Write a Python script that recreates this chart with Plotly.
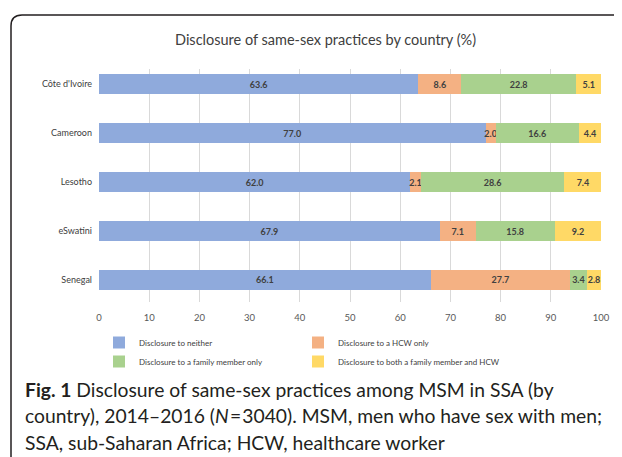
import plotly.graph_objects as go

countries = ["Côte d'Ivoire", "Cameroon", "Lesotho", "eSwatini", "Senegal"]
neither = [63.6, 77.0, 62.0, 67.9, 66.1]
hcw_only = [8.6, 2.0, 2.1, 7.1, 27.7]
family_only = [22.8, 16.6, 28.6, 15.8, 3.4]
both = [5.1, 4.4, 7.4, 9.2, 2.8]

series_names = ["Disclosure to neither", "Disclosure to a HCW only",
                "Disclosure to a family member only", "Disclosure to both a family member and HCW"]
series_vals = [neither, hcw_only, family_only, both]
colors = ["#8FAADC", "#F4B183", "#A9D18E", "#FFD966"]
legends = ["legend", "legend2", "legend3", "legend4"]
x_ticks = list(range(0, 101, 10))

# the page body has an 8px margin; work in window coordinates and compensate
OFF = 8
W, H = 622 - OFF, 457 - OFF
L, R, T, B = 99 - OFF, 601 - OFF, 69 - OFF, 302 - OFF

def px(v):
    return (v - OFF - L) / (R - L)

def py(v):
    return (B - (v - OFF)) / (B - T)

fig = go.Figure()
for name, vals, c, lg in zip(series_names, series_vals, colors, legends):
    fig.add_trace(go.Bar(
        y=countries, x=vals, name=name, orientation="h",
        marker=dict(color=c, line=dict(width=0)),
        text=vals, texttemplate="<b>%{x:.1f}</b>", textposition="inside", textangle=0,
        insidetextanchor="middle", constraintext="none",
        textfont=dict(family="Lato", size=9, color="#404040"),
        legend=lg, hoverinfo="skip",
    ))

leg_common = dict(orientation="v", xanchor="left", yanchor="top",
                  font=dict(family="Lato", size=8, color="#404040"),
                  bgcolor="rgba(0,0,0,0)", itemwidth=30)

fig.update_layout(
    width=W, height=H,
    margin=dict(l=L, r=W - R, t=T, b=H - B, pad=0, autoexpand=False),
    barmode="stack", bargap=0.59,
    paper_bgcolor="white", plot_bgcolor="white",
    uniformtext=dict(mode="show", minsize=9),
    font=dict(family="Lato", color="#404040"),
    xaxis=dict(range=[0, 100], tickvals=x_ticks, showgrid=True, gridcolor="#D9D9D9",
               gridwidth=1, zeroline=False, showline=False, ticks="",
               tickfont=dict(family="Lato", size=9.5, color="#595959"), ticklabelstandoff=8),
    yaxis=dict(categoryorder="array", categoryarray=countries, range=[4.45, -0.31],
               showgrid=False, zeroline=False, showline=False, ticks="",
               tickfont=dict(family="Lato", size=9, color="#404040"), ticklabelstandoff=6),
    legend=dict(x=px(99), y=py(328), **leg_common),
    legend2=dict(x=px(298), y=py(328), **leg_common),
    legend3=dict(x=px(99), y=py(347), **leg_common),
    legend4=dict(x=px(298), y=py(347), **leg_common),
    showlegend=True,
)

# Chart title
fig.add_annotation(text="Disclosure of same-sex practices by country (%)", xref="paper", yref="paper",
                   x=px(325), y=py(40), xanchor="center", yanchor="middle", showarrow=False,
                   font=dict(family="Lato", size=14.5, color="#404040"))

# Figure caption
caption_lines = [
    "<b>Fig. 1</b> Disclosure of same-sex practices among MSM in SSA (by",
    "country), 2014–2016 (<i>N</i>\u200a=\u200a3040). MSM, men who have sex with men;",
    "SSA, sub-Saharan Africa; HCW, healthcare worker",
]
for line, yy in zip(caption_lines, [389, 415, 442]):
    fig.add_annotation(text=line, xref="paper", yref="paper", x=px(23), y=py(yy),
                       xanchor="left", yanchor="middle", showarrow=False,
                       font=dict(family="Lato", size=19.3, color="#231F20"))

# Rounded frame around figure
path = (f"M {px(11)},{py(470)} L {px(11)},{py(26)} "
        f"Q {px(11)},{py(15)} {px(22)},{py(15)} L {px(622)},{py(15)}")
fig.add_shape(type="path", path=path, xref="paper", yref="paper",
              line=dict(color="#231F20", width=1.5))

fig.write_html("out.html", config={"displayModeBar": False})
